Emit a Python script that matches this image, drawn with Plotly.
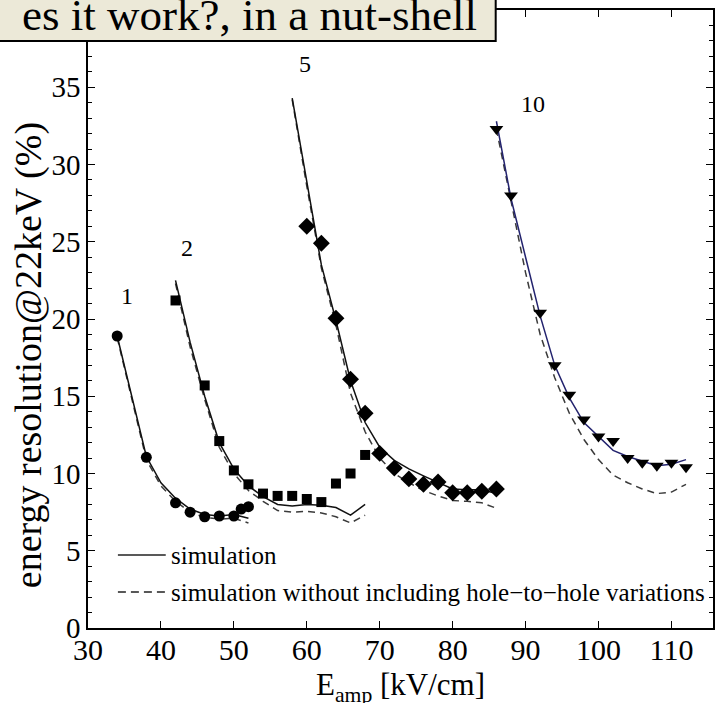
import plotly.graph_objects as go

# ---------------- data ----------------
# gap 1 (circles)
c1_x = [34, 38, 42, 44, 46, 48, 50, 51, 52]
c1_y = [18.9, 11.05, 8.1, 7.5, 7.2, 7.25, 7.25, 7.7, 7.85]
s1_x = [34, 36, 38, 40, 42, 44, 46, 48, 50, 52]
s1_y = [18.9, 15.0, 11.1, 9.4, 8.4, 7.7, 7.35, 7.25, 7.35, 7.1]
d1_y = [18.8, 14.8, 10.9, 9.2, 8.2, 7.5, 7.15, 7.05, 7.1, 6.8]

# gap 2 (squares)
sq_x = [42, 46, 48, 50, 52, 54, 56, 58, 60, 62, 64, 66, 68]
sq_y = [21.2, 15.7, 12.1, 10.2, 9.3, 8.7, 8.55, 8.55, 8.35, 8.15, 9.35, 10.0, 11.2]
s2_x = [42, 44, 46, 48, 50, 52, 54, 56, 58, 60, 62, 64, 66, 68]
s2_y = [22.5, 18.5, 15.0, 12.0, 10.3, 9.2, 8.5, 8.0, 7.9, 8.0, 7.95, 7.8, 7.3, 8.0]
d2_y = [22.3, 18.2, 14.8, 11.7, 10.0, 8.9, 8.2, 7.6, 7.5, 7.55, 7.45, 7.2, 6.8, 7.3]

# gap 5 (diamonds)
dm_x = [60, 62, 64, 66, 68, 70, 72, 74, 76, 78, 80, 82, 84, 86]
dm_y = [26.0, 24.9, 20.05, 16.1, 13.9, 11.3, 10.35, 9.65, 9.3, 9.45, 8.75, 8.75, 8.85, 9.0]
s5_x = [58, 60, 62, 64, 66, 68, 70, 72, 74, 76, 78, 80, 82, 84, 86]
s5_y = [34.3, 28.8, 23.5, 19.9, 16.0, 13.3, 11.7, 10.85, 10.3, 9.85, 9.45, 9.0, 8.95, 8.95, 8.7]
d5_y = [34.2, 28.6, 23.3, 19.6, 15.2, 12.7, 11.0, 10.0, 9.4, 8.9, 8.55, 8.25, 8.2, 8.1, 7.75]

# gap 10 (down triangles)
tr_x = [86, 88, 92, 94, 96, 98, 100, 102, 104, 106, 108, 110, 112]
tr_y = [32.3, 28.0, 20.4, 17.0, 15.1, 13.5, 12.4, 12.1, 11.0, 10.7, 10.5, 10.7, 10.4]
s10_x = [86, 88, 90, 92, 94, 96, 98, 100, 102, 104, 106, 108, 110, 112]
s10_y = [32.8, 27.8, 24.0, 20.2, 17.0, 14.9, 13.3, 12.4, 11.5, 11.1, 10.8, 10.5, 10.6, 10.9]
d10_y = [32.3, 27.6, 23.0, 19.0, 16.2, 13.9, 12.2, 10.9, 9.9, 9.4, 9.0, 8.7, 8.8, 9.3]

gap_labels = ["1", "2", "5", "10"]
gap_label_x = [35.3, 43.6, 59.8, 91.0]
gap_label_y = [21.5, 24.6, 36.5, 33.9]

x_ticks = [30, 40, 50, 60, 70, 80, 90, 100, 110]
y_ticks = [0, 5, 10, 15, 20, 25, 30, 35]

legend_labels = ["simulation", "simulation without including hole\u2212to\u2212hole variations"]
box_text = "es it work?, in a nut-shell"
x_title = "E<sub>amp</sub> [kV/cm]"
y_title = "energy resolution@22keV (%)"

# ---------------- figure ----------------
W, H = 715, 703
ML, MR, MT, MB = 88, 0, 10, 75
PW, PH = W - ML - MR, H - MT - MB


def px(xp):
    return (xp - ML) / PW


def py(yp):
    return (H - MB - yp) / PH


FONT = "Liberation Serif, Times New Roman, serif"
SOLID = "#111111"
DASH = "#3a3a3a"

fig = go.Figure()

sims = [
    (s1_x, s1_y, d1_y, SOLID),
    (s2_x, s2_y, d2_y, SOLID),
    (s5_x, s5_y, d5_y, SOLID),
    (s10_x, s10_y, d10_y, "#23236e"),
]
for sx, sy, dy, col in sims:
    fig.add_trace(go.Scatter(x=sx, y=dy, mode="lines",
                             line=dict(color=DASH, width=1.5, dash="7px,5px"),
                             showlegend=False, hoverinfo="skip"))
    fig.add_trace(go.Scatter(x=sx, y=sy, mode="lines",
                             line=dict(color=col, width=1.5),
                             showlegend=False, hoverinfo="skip"))

meas = [
    (c1_x, c1_y, "circle", 11),
    (sq_x, sq_y, "square", 10),
    (dm_x, dm_y, "diamond", 13),
    (tr_x, tr_y, "triangle-down", 12),
]
for mx, my, sym, sz in meas:
    fig.add_trace(go.Scatter(x=mx, y=my, mode="markers",
                             marker=dict(symbol=sym, size=sz, color="black",
                                         line=dict(width=0)),
                             showlegend=False))

annotations = []
for t, ax_, ay_ in zip(gap_labels, gap_label_x, gap_label_y):
    annotations.append(dict(x=ax_, y=ay_, xref="x", yref="y", text=t,
                            showarrow=False, font=dict(family=FONT, size=24, color="black")))

# manual legend
legend_rows_y = [555, 592]
legend_dash = ["solid", "dash"]
shapes = []
for ly, lt, dsh in zip(legend_rows_y, legend_labels, legend_dash):
    shapes.append(dict(type="line", xref="paper", yref="paper",
                       x0=px(118), x1=px(166), y0=py(ly), y1=py(ly),
                       line=dict(color="#222222", width=1.4,
                                 dash="solid" if dsh == "solid" else "8px,5px")))
    annotations.append(dict(x=px(169), y=py(ly), xref="paper", yref="paper",
                            text=lt, showarrow=False, xanchor="left", yanchor="middle",
                            font=dict(family=FONT, size=25, color="black")))

# title box (cut-off slide heading)
shapes.append(dict(type="rect", xref="paper", yref="paper",
                   x0=px(-5), x1=px(497), y0=py(41), y1=py(-5),
                   fillcolor="#ECE9D8", line=dict(color="black", width=2), layer="above"))
annotations.append(dict(x=px(480), y=py(15), xref="paper", yref="paper",
                        text=box_text, showarrow=False, xanchor="right", yanchor="middle",
                        font=dict(family=FONT, size=45, color="black")))

# axis titles
annotations.append(dict(x=px(401), y=py(665), xref="paper", yref="paper",
                        text=x_title, showarrow=False, xanchor="center", yanchor="top",
                        font=dict(family=FONT, size=31, color="black")))
annotations.append(dict(x=px(28), y=py(355), xref="paper", yref="paper",
                        text=y_title, showarrow=False, textangle=-90,
                        xanchor="center", yanchor="middle",
                        font=dict(family=FONT, size=38, color="black")))

fig.update_layout(
    width=W, height=H,
    margin=dict(l=ML, r=MR, t=MT, b=MB),
    paper_bgcolor="white", plot_bgcolor="white",
    showlegend=False,
    font=dict(family=FONT, color="black"),
    shapes=shapes,
    annotations=annotations,
)

fig.update_xaxes(
    range=[30, 115.7], tickvals=x_ticks, ticktext=[str(v) for v in x_ticks],
    ticks="inside", ticklen=7, tickwidth=1.3, tickcolor="black",
    showline=True, linecolor="black", linewidth=1.5, mirror="ticks",
    showgrid=False, zeroline=False, ticklabelstandoff=-6,
    tickfont=dict(family=FONT, size=30, color="black"),
)
fig.update_yaxes(
    range=[0, 40], tickvals=y_ticks, ticktext=[str(v) for v in y_ticks],
    ticks="inside", ticklen=7, tickwidth=1.3, tickcolor="black",
    minor=dict(dtick=1, ticks="inside", ticklen=4, tickcolor="black", tickwidth=1),
    showline=True, linecolor="black", linewidth=1.5, mirror="ticks",
    showgrid=False, zeroline=False,
    tickfont=dict(family=FONT, size=29, color="black"),
)

fig.write_html("out.html")
